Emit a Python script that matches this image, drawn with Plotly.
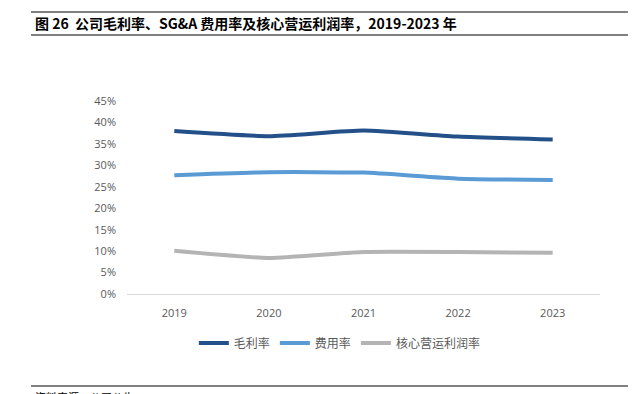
import plotly.graph_objects as go

years = ["2019", "2020", "2021", "2022", "2023"]
gross_margin = [38.0, 36.8, 38.1, 36.7, 36.0]
sga_ratio = [27.7, 28.4, 28.3, 26.9, 26.6]
core_op_margin = [10.1, 8.4, 9.8, 9.8, 9.6]
series_names = ["毛利率", "费用率", "核心营运利润率"]
y_ticks = [0, 5, 10, 15, 20, 25, 30, 35, 40, 45]

colors = ["#245089", "#5B9BD5", "#B4B4B4"]

fig = go.Figure()
for name, vals, c in zip(series_names, [gross_margin, sga_ratio, core_op_margin], colors):
    fig.add_trace(go.Scatter(
        x=years, y=vals, name=name, mode="lines",
        line=dict(color=c, width=4, shape="spline", smoothing=0.5),
    ))

fig.update_layout(
    width=644, height=394,
    margin=dict(l=127, r=44, t=101, b=100, autoexpand=False),
    paper_bgcolor="white", plot_bgcolor="white",
    font=dict(family="Noto Sans CJK SC, Open Sans", color="#595959", size=11),
    showlegend=True,
    legend=dict(orientation="h", x=0.45, xanchor="center", y=-0.254, yanchor="middle",
                font=dict(size=12, color="#595959", family="Noto Sans CJK SC"),
                traceorder="normal"),
    xaxis=dict(type="category", range=[-0.5, 4.5], showgrid=False,
               showline=True, linecolor="#D9D9D9", linewidth=1,
               ticks="", ticklabelstandoff=9,
               tickfont=dict(family="Open Sans", size=11, color="#595959"),
               fixedrange=True),
    yaxis=dict(range=[0, 45], tickvals=y_ticks,
               ticktext=[f"{v}%" for v in y_ticks], showgrid=False,
               zeroline=False, showline=False, ticks="", ticklabelstandoff=10,
               tickfont=dict(family="Open Sans", size=11, color="#595959")),
)

# Title and rules
fig.add_annotation(xref="paper", yref="paper", x=-0.199, y=1.404, xanchor="left", yanchor="middle",
                   text="<b>图 26  公司毛利率、SG&A 费用率及核心营运利润率，2019-2023 年</b>",
                   showarrow=False, font=dict(family="Noto Sans CJK SC", size=14, color="#000000"))
for yy in [1.461, 1.342, -0.477]:
    fig.add_shape(type="line", xref="paper", yref="paper", x0=-0.203, x1=1.059, y0=yy, y1=yy,
                  line=dict(color="#808080", width=2))
fig.add_annotation(xref="paper", yref="paper", x=-0.199, y=-0.484, xanchor="left", yanchor="top",
                   text="资料来源：公司公告，HTI", showarrow=False,
                   font=dict(family="Noto Sans CJK SC", size=11, color="#000000"))

fig.write_html("out.html", config={"displayModeBar": False},
               post_script="document.body.style.margin='0';")
